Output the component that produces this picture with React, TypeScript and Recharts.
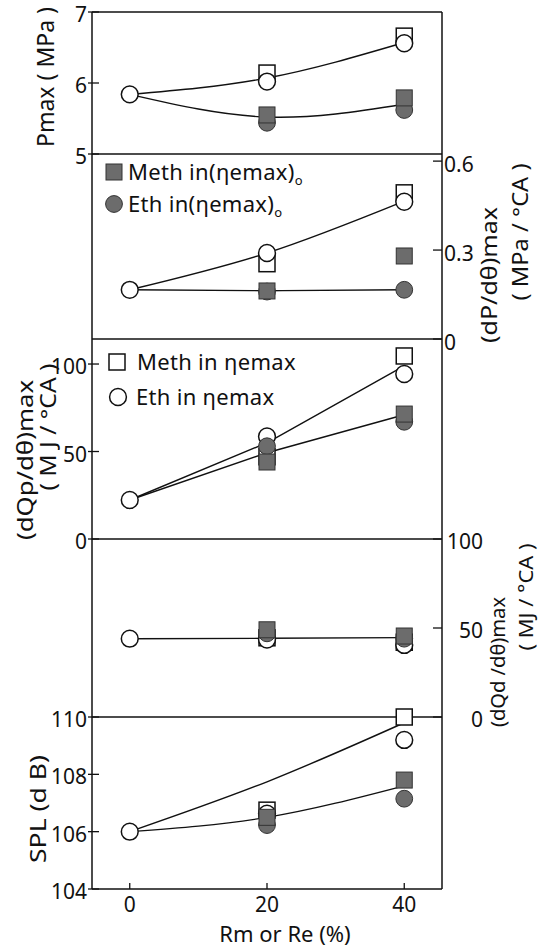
import React from "react";
import { ComposedChart, Line, XAxis, YAxis, ReferenceLine } from "recharts";

const W = 548;
const H = 951;
const INK = "#111";
const GREY = "#6c6c6c";
const FONT = "'Noto Sans', sans-serif";

type Series = (number | null)[];

// x: Rm or Re (%)
const rmRe = [0, 20, 40];
const xTicks = [0, 20, 40];

// Pmax (MPa)
const pmaxMethO: Series = [null, 5.55, 5.79];
const pmaxEthO: Series = [null, 5.44, 5.62];
const pmaxMeth: Series = [null, 6.14, 6.66];
const pmaxEth: Series = [5.84, 6.02, 6.56];
const pmaxFitHi: Series = [5.84, 6.07, 6.57];
const pmaxFitLo: Series = [5.84, 5.52, 5.7];
const pmaxTicks = [5, 6, 7];

// (dP/dθ)max (MPa/°CA)
const dpMethO: Series = [null, 0.162, 0.28];
const dpEthO: Series = [null, 0.16, 0.166];
const dpMeth: Series = [null, 0.254, 0.493];
const dpEth: Series = [0.166, 0.29, 0.463];
const dpFitHi: Series = [0.166, 0.29, 0.465];
const dpFitLo: Series = [0.166, 0.163, 0.166];
const dpTicks = [0, 0.3, 0.6];

// (dQp/dθ)max (MJ/°CA)
const qpMethO: Series = [null, 44, 71.4];
const qpEthO: Series = [null, 53, 67];
const qpMeth: Series = [null, 47, 104.6];
const qpEth: Series = [22.3, 58.6, 94.3];
const qpFitHi: Series = [22.3, 55, 99];
const qpFitLo: Series = [22.3, 49.3, 71];
const qpTicks = [0, 50, 100];

// (dQd/dθ)max (MJ/°CA)
const qdMethO: Series = [null, 49, 45.5];
const qdEthO: Series = [null, 47, 44];
const qdMeth: Series = [null, 44.5, 42];
const qdEth: Series = [44, 43.5, 40.5];
const qdFit: Series = [44, 44.2, 44.6];
const qdTicks = [0, 50, 100];

// SPL (dB)
const splMethO: Series = [null, 106.5, 107.8];
const splEthO: Series = [null, 106.23, 107.15];
const splMeth: Series = [null, 106.75, 110];
const splEth: Series = [106, 106.63, 109.2];
const splFitHi: Series = [106, 107.74, 109.8];
const splFitLo: Series = [106, 106.5, 107.6];
const splTicks = [104, 106, 108, 110];

type Kind = "openSquare" | "openCircle" | "filledSquare" | "filledCircle";

function Marker({ kind, cx, cy }: { kind: Kind; cx: number; cy: number }) {
  if (kind === "openSquare")
    return <rect x={cx - 8} y={cy - 8} width={16} height={16} fill="#fff" stroke={INK} strokeWidth={1.5} />;
  if (kind === "openCircle")
    return <circle cx={cx} cy={cy} r={8.4} fill="#fff" stroke={INK} strokeWidth={1.5} />;
  if (kind === "filledSquare")
    return <rect x={cx - 8} y={cy - 8} width={16} height={16} fill={GREY} stroke="#333" strokeWidth={1} />;
  return <circle cx={cx} cy={cy} r={8.4} fill={GREY} stroke="#333" strokeWidth={1} />;
}

const marker = (kind: Kind) => (p: any) => {
  const { cx, cy, value, index } = p;
  if (value == null || cx == null || cy == null || isNaN(cy)) return <g key={`${kind}-${index}`} />;
  return (
    <g key={`${kind}-${index}`}>
      <Marker kind={kind} cx={cx} cy={cy} />
    </g>
  );
};

const textStyle = { fontFamily: FONT, fill: INK };

const LeftTick = ({ x, y, payload }: any) => (
  <g>
    <line x1={x - 4} x2={x + 7} y1={y} y2={y} stroke={INK} strokeWidth={1.3} />
    <text x={x - 5} y={y + 10} textAnchor="end" fontSize={21} {...textStyle}>
      {payload.value}
    </text>
  </g>
);

const RightTickStart = ({ x, y, payload }: any) => (
  <g>
    <line x1={x - 9} x2={x} y1={y} y2={y} stroke={INK} strokeWidth={1.3} />
    <text x={x + 2} y={y + 11} textAnchor="start" fontSize={21} {...textStyle}>
      {payload.value}
    </text>
  </g>
);

const RightTickEnd = ({ x, y, payload }: any) => (
  <g>
    <line x1={x - 9} x2={x} y1={y} y2={y} stroke={INK} strokeWidth={1.3} />
    <text x={x + 41} y={y + 10} textAnchor="end" fontSize={21} {...textStyle}>
      {payload.value}
    </text>
  </g>
);

const BottomTick = ({ x, y, payload }: any) => (
  <g>
    <line x1={x} x2={x} y1={y} y2={y - 6} stroke={INK} strokeWidth={1.3} />
    <text x={x} y={y + 23} textAnchor="middle" fontSize={21} {...textStyle}>
      {payload.value}
    </text>
  </g>
);

type PanelProps = {
  top: number;
  bottom: number;
  domain: [number, number];
  ticks: number[];
  side: "left" | "right";
  rightTick?: any;
  curve: "natural" | "linear";
  methO: Series;
  ethO: Series;
  meth: Series;
  eth: Series;
  fits: Series[];
  frameTop?: boolean;
  xLabels?: boolean;
};

function Panel(p: PanelProps) {
  const data = rmRe.map((x, i) => {
    const row: Record<string, number | null> = {
      x,
      methO: p.methO[i],
      ethO: p.ethO[i],
      meth: p.meth[i],
      eth: p.eth[i],
    };
    p.fits.forEach((f, k) => (row[`fit${k}`] = f[i]));
    return row;
  });
  const axisLine = { stroke: INK, strokeWidth: 1.5 };
  const yId = p.side === "left" ? "l" : "r";
  const series: [string, Kind][] = [
    ["meth", "openSquare"],
    ["eth", "openCircle"],
    ["ethO", "filledCircle"],
    ["methO", "filledSquare"],
  ];
  return (
    <div style={{ position: "absolute", left: 0, top: 0 }}>
      <ComposedChart
        width={W}
        height={H}
        data={data}
        margin={{ top: p.top, bottom: H - p.bottom - 1, left: 0, right: 0 }}
      >
        <XAxis
          dataKey="x"
          type="number"
          domain={[-5.5, 45.5]}
          ticks={xTicks}
          height={1}
          axisLine={axisLine}
          tickLine={false}
          tickSize={0}
          tickMargin={0}
          tick={p.xLabels ? BottomTick : false}
        />
        <YAxis
          yAxisId="l"
          type="number"
          domain={p.domain}
          ticks={p.ticks}
          width={92}
          axisLine={axisLine}
          tickLine={false}
          tickSize={0}
          tickMargin={0}
          tick={p.side === "left" ? LeftTick : false}
        />
        <YAxis
          yAxisId="r"
          orientation="right"
          type="number"
          domain={p.domain}
          ticks={p.ticks}
          width={106}
          axisLine={axisLine}
          tickLine={false}
          tickSize={0}
          tickMargin={0}
          tick={p.side === "right" ? p.rightTick : false}
        />
        {p.frameTop && <ReferenceLine yAxisId="l" y={p.domain[1]} stroke={INK} strokeWidth={1.5} />}
        {p.fits.map((_, k) => (
          <Line
            key={`fit${k}`}
            yAxisId={yId}
            dataKey={`fit${k}`}
            type={p.curve}
            stroke={INK}
            strokeWidth={1.4}
            dot={false}
            activeDot={false}
            isAnimationActive={false}
          />
        ))}
        {series.map(([key, kind]) => (
          <Line
            key={key}
            yAxisId={yId}
            dataKey={key}
            stroke="none"
            dot={marker(kind)}
            activeDot={false}
            isAnimationActive={false}
          />
        ))}
      </ComposedChart>
    </div>
  );
}

const VTitle = ({ x, y, len, children, size = 22 }: any) => (
  <text
    transform={`translate(${x},${y}) rotate(-90)`}
    textAnchor="middle"
    dominantBaseline="central"
    fontSize={size}
    textLength={len}
    lengthAdjust="spacingAndGlyphs"
    {...textStyle}
  >
    {children}
  </text>
);

const LegendRow = ({ x, y, gap, kind, children }: any) => (
  <g>
    <Marker kind={kind} cx={x} cy={y} />
    <text x={x + gap} y={y + 8} fontSize={22} letterSpacing={0.3} {...textStyle}>
      {children}
    </text>
  </g>
);

export default function App() {
  return (
    <div style={{ position: "absolute", left: 0, top: 0, width: W, height: H, background: "#fff" }}>
      <Panel
        top={12}
        bottom={154}
        domain={[5, 7]}
        ticks={pmaxTicks}
        side="left"
        curve="natural"
        methO={pmaxMethO}
        ethO={pmaxEthO}
        meth={pmaxMeth}
        eth={pmaxEth}
        fits={[pmaxFitHi, pmaxFitLo]}
        frameTop
      />
      <Panel
        top={154}
        bottom={339}
        domain={[0, 0.624]}
        ticks={dpTicks}
        side="right"
        rightTick={RightTickStart}
        curve="natural"
        methO={dpMethO}
        ethO={dpEthO}
        meth={dpMeth}
        eth={dpEth}
        fits={[dpFitHi, dpFitLo]}
      />
      <Panel
        top={339}
        bottom={539}
        domain={[0, 114.3]}
        ticks={qpTicks}
        side="left"
        curve="linear"
        methO={qpMethO}
        ethO={qpEthO}
        meth={qpMeth}
        eth={qpEth}
        fits={[qpFitHi, qpFitLo]}
      />
      <Panel
        top={539}
        bottom={717}
        domain={[0, 100]}
        ticks={qdTicks}
        side="right"
        rightTick={RightTickEnd}
        curve="linear"
        methO={qdMethO}
        ethO={qdEthO}
        meth={qdMeth}
        eth={qdEth}
        fits={[qdFit]}
      />
      <Panel
        top={717}
        bottom={889}
        domain={[104, 110]}
        ticks={splTicks}
        side="left"
        curve="natural"
        methO={splMethO}
        ethO={splEthO}
        meth={splMeth}
        eth={splEth}
        fits={[splFitHi, splFitLo]}
        xLabels
      />
      <svg width={W} height={H} style={{ position: "absolute", left: 0, top: 0, pointerEvents: "none" }}>
        <VTitle x={45} y={77} len={140} size={23}>Pmax ( MPa )</VTitle>
        <VTitle x={488} y={275} len={136}>(dP/dθ)max</VTitle>
        <VTitle x={519} y={232} len={137}>( MPa / °CA )</VTitle>
        <VTitle x={24} y={460} len={160}>(dQp/dθ)max</VTitle>
        <VTitle x={47} y={427} len={127}>( M J / °CA )</VTitle>
        <VTitle x={497} y={662} len={130} size={20}>(dQd /dθ)max</VTitle>
        <VTitle x={525} y={597} len={107} size={20}>( MJ / °CA )</VTitle>
        <VTitle x={37} y={809} len={108}>SPL (d B)</VTitle>
        <text x={285} y={942} textAnchor="middle" fontSize={22} {...textStyle}>
          Rm or Re (%)
        </text>

        <LegendRow x={114} y={172} gap={14} kind="filledSquare">
          Meth in(ηemax)
          <tspan fontSize={13} dy={5}>o</tspan>
        </LegendRow>
        <LegendRow x={114} y={204} gap={14} kind="filledCircle">
          Eth in(ηemax)
          <tspan fontSize={13} dy={5}>o</tspan>
        </LegendRow>
        <LegendRow x={117} y={362} gap={20} kind="openSquare">
          Meth in ηemax
        </LegendRow>
        <LegendRow x={118} y={397} gap={18} kind="openCircle">
          Eth in ηemax
        </LegendRow>
      </svg>
    </div>
  );
}
